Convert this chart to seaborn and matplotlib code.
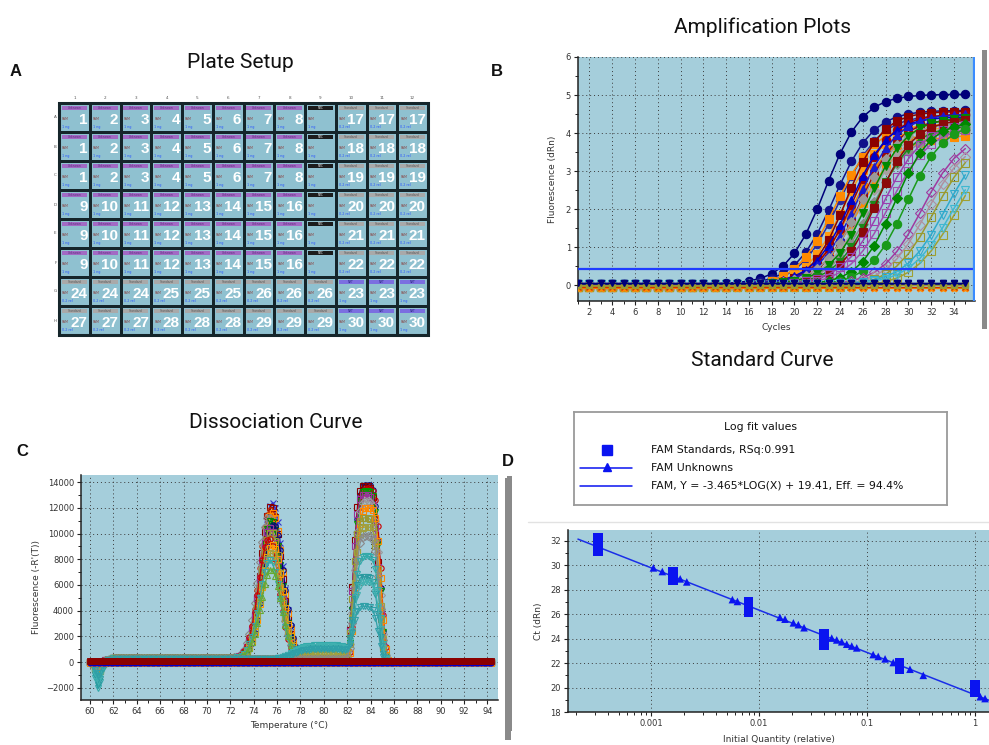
import numpy as np
import pandas as pd
import matplotlib
matplotlib.use("Agg")
import matplotlib.pyplot as plt
import seaborn as sns
from matplotlib.patches import Rectangle
from matplotlib.colors import ListedColormap
from matplotlib.ticker import MultipleLocator, LogLocator, FixedLocator, NullFormatter, FixedFormatter

# ---------------------------------------------------------------- data
# A: 96-well plate layout (sample numbers, None = empty number)
plate_row_names = list("ABCDEFGH")
plate_col_names = [str(i) for i in range(1, 13)]
plate_ids = [
    [1, 2, 3, 4, 5, 6, 7, 8, None, 17, 17, 17],
    [1, 2, 3, 4, 5, 6, 7, 8, None, 18, 18, 18],
    [1, 2, 3, 4, 5, 6, 7, 8, None, 19, 19, 19],
    [9, 10, 11, 12, 13, 14, 15, 16, None, 20, 20, 20],
    [9, 10, 11, 12, 13, 14, 15, 16, None, 21, 21, 21],
    [9, 10, 11, 12, 13, 14, 15, 16, None, 22, 22, 22],
    [24, 24, 24, 25, 25, 25, 26, 26, 26, 23, 23, 23],
    [27, 27, 27, 28, 28, 28, 29, 29, 29, 30, 30, 30],
]
# U = unknown, N = no-template, S = standard, B = buffer control
plate_types = ["UUUUUUUUNSSS"] * 6 + ["SSSSSSSSSBBB"] * 2
type_strip_color = {"U": "#a26ac4", "N": "#1c1c1c", "S": "#a9a9a9", "B": "#7b6fe0"}
type_strip_text = {"U": "Unknown", "N": "NTC", "S": "Standard", "B": "NRT"}
type_strip_text_color = {"U": "#5a2a7a", "N": "#f0f0f0", "S": "#555555", "B": "#2a2a80"}
type_qty_text = {"U": "1 ng", "N": "1 ng", "S": "0.2 rel", "B": "1 ng"}

# B: amplification curves (logistic fits read per well)
amp_cycles = np.arange(1, 36)
amp_colors = ["#00007a", "#10108a", "#2a2aa0", "#ff8a00", "#ff9a10", "#f08000", "#ff8c00",
              "#8b0000", "#a00000", "#9a0a0a", "#0000c8", "#1a1ad0", "#9a9a9a", "#a8a0a0",
              "#8c8c8c", "#008a00", "#1a8a1a", "#8b0a0a", "#9a40b0", "#a050b0", "#008800",
              "#1a9a1a", "#a03aa0", "#b090a0", "#9a9a30", "#30aacc", "#a0a030", "#40b8d0"]
amp_markers = ["o", "o", "o", "s", "s", "s", "s", "s", "o", "s", "^", "^", "D", "D",
               "D", "v", "v", "s", "s", "s", "D", "o", "D", "D", "s", "v", "s", "v"]
amp_open = [False] * 18 + [True, True, False, False, True, True, True, True, True, True]
amp_mid = [22.7, 23.5, 24.0, 23.6, 24.3, 25.0, 25.6, 24.6, 25.2, 25.8, 25.0, 25.6, 25.8, 26.3,
           26.8, 26.5, 27.0, 27.2, 27.8, 28.3, 28.8, 29.8, 31.2, 31.6, 32.3, 33.3, 34.2, 33.8]
amp_max = [5.0, 4.6, 4.5, 4.3, 4.2, 4.1, 4.0, 4.6, 4.5, 4.4, 4.4, 4.5, 4.3, 4.2,
           4.1, 4.4, 4.2, 4.4, 4.3, 4.2, 4.3, 4.3, 4.0, 3.9, 4.0, 4.0, 4.0, 3.8]
amp_slope = [1.65, 1.7, 1.75, 1.75, 1.7, 1.75, 1.8, 1.55, 1.65, 1.7, 1.65, 1.75, 1.75, 1.8,
             1.8, 1.7, 1.7, 1.65, 1.8, 1.8, 1.55, 1.65, 1.75, 1.75, 1.8, 1.8, 1.9, 1.85]
amp_base = [0.02, 0.0, -0.02, -0.06, -0.05, -0.04, -0.06, -0.03, 0.0, -0.02, 0.03, 0.01, -0.02,
            0.0, 0.01, 0.02, 0.0, -0.03, 0.0, -0.02, 0.01, -0.02, 0.0, -0.03, -0.05, 0.02, -0.06, 0.01]
amp_flat_level = [-0.07, -0.04, 0.03, 0.05, -0.01, 0.06]
amp_flat_colors = ["#ff8800", "#d03000", "#00007a", "#0000a0", "#9a9a30", "#00007a"]
amp_flat_markers = ["X", "x", "v", "v", "s", "v"]
amp_threshold = 0.43

# C: melt-curve derivative peaks
diss_step = 0.22
p1_temp = [75.6, 75.5, 75.4, 75.6, 75.3, 75.5, 75.7, 75.4, 75.5, 75.3, 75.6, 75.5, 75.4, 75.5]
p1_height = [12100, 11800, 11500, 11300, 11000, 10700, 10400, 10100, 9800, 9300, 8800, 8200, 7600, 6900]
p1_colors = ["#3333cc", "#8b0000", "#cc3300", "#ff8800", "#8a8a8a", "#008800", "#00007a",
             "#993399", "#999933", "#cc0000", "#ff9900", "#a0a040", "#33aaaa", "#66aa33"]
p1_markers = ["x", "s", "o", "s", "D", "v", "o", "s", "s", "o", "s", "s", "v", "^"]
p1_dip = [300, 200, 400, 800, 300, 500, 200, 300, 900, 400, 700, 1000, 1300, 600]
p2_temp = [83.7, 83.6, 83.8, 83.7, 83.6, 83.7, 83.8, 83.6, 83.7, 83.7, 83.7, 83.6, 83.7, 83.6]
p2_height = [13800, 13700, 13500, 13300, 13000, 12500, 12000, 11200, 10500, 9800, 8200, 6600, 6200, 4300]
p2_colors = ["#00007a", "#8b0000", "#cc0000", "#009900", "#993399", "#9a9a9a", "#ff8800",
             "#999933", "#a0a040", "#8a8a8a", "#33aaaa", "#2a9aa0", "#40b0b0", "#30a0a8"]
p2_markers = ["o", "s", "o", "v", "s", "D", "s", "s", "s", "D", "v", "v", "v", "v"]
p2_shoulder = [0, 0, 0, 0, 0, 0, 0, 300, 400, 0, 1100, 900, 1000, 800]
p2_dip = [200, 300, 200, 400, 300, 300, 600, 900, 700, 400, 2100, 1800, 1500, 1100]
flat_level = [0, 80, -80, 40, -40, 120]
flat_colors = ["#00007a", "#cc0000", "#ff8800", "#993399", "#0000cc", "#8b0000"]
flat_markers = ["o", "o", "s", "v", "o", "s"]

# D: standard curve
std_qty = [0.00032] * 4 + [0.0016] * 4 + [0.008] * 4 + [0.04] * 4 + [0.2] * 4 + [1.0] * 3
std_ct = [31.2, 31.6, 32.0, 32.3, 28.8, 29.0, 29.3, 29.5, 26.2, 26.5, 26.8, 27.0,
          23.5, 23.8, 24.1, 24.4, 21.5, 21.7, 21.9, 22.0, 19.6, 19.9, 20.2]
unk_qty = [0.00105, 0.00127, 0.00186, 0.00214, 0.00566, 0.0063, 0.0156, 0.0174, 0.0208,
           0.0231, 0.0261, 0.0471, 0.0524, 0.0583, 0.0649, 0.0722, 0.0803, 0.114, 0.127,
           0.147, 0.175, 0.25, 0.332, 1.12, 1.24]
unk_ct = [29.8, 29.5, 28.9, 28.65, 27.2, 27.05, 25.75, 25.6, 25.3, 25.15, 24.9, 24.05,
          23.9, 23.75, 23.55, 23.4, 23.25, 22.7, 22.55, 22.35, 22.05, 21.5, 21.0, 19.25, 19.1]
fit_slope = -3.465
fit_intercept = 19.41
fit_rsq = 0.991
fit_eff = 94.4
fit_qmin = 2.1e-4

# ---------------------------------------------------------------- figure
sns.set_theme(style="white")
plt.rcParams["font.family"] = ["DejaVu Sans"]

W, H = 989, 745
fig = plt.figure(figsize=(W / 100, H / 100), dpi=100)
fig.patch.set_facecolor("white")

PLOT_BG = "#a5cedb"
TITLE_FONT = dict(family=["Roboto", "DejaVu Sans"], weight="normal", size=15, color="#111111")
LETTER_FONT = dict(family=["Liberation Sans", "DejaVu Sans"], weight="bold", size=12, color="#111111")


def px_axes(l, t, r, b):
    return fig.add_axes([l / W, 1 - b / H, (r - l) / W, (b - t) / H])


def ftext(x, y, s, **kw):
    fig.text(x / W, 1 - y / H, s, **kw)


def fbar(l, t, r, b, color):
    fig.add_artist(Rectangle((l / W, 1 - b / H), (r - l) / W, (b - t) / H,
                             transform=fig.transFigure, color=color, lw=0))


def style_axes(ax):
    ax.set_facecolor(PLOT_BG)
    for side in ("top", "right"):
        ax.spines[side].set_visible(False)
    for side in ("left", "bottom"):
        ax.spines[side].set_visible(True)
        ax.spines[side].set_color("#222222")
        ax.spines[side].set_linewidth(1.1)
    ax.tick_params(which="major", direction="out", length=3, width=0.8, color="#222222",
                   labelsize=6, labelcolor="#333333", pad=2, left=True, bottom=True)
    ax.tick_params(which="minor", direction="out", length=2, width=0.7, color="#222222",
                   left=True, bottom=True)
    ax.grid(True, which="major", linestyle=(0, (1, 3)), color="#3a3a3a", lw=0.7)
    ax.set_axisbelow(True)


# ---------------------------------------------------------------- A: plate
ftext(240, 62, "Plate Setup", ha="center", va="center", **TITLE_FONT)
ftext(16, 72, "A", ha="center", va="center", **LETTER_FONT)

axA = px_axes(59, 103, 428, 335)
sns.heatmap(np.zeros((8, 12)), cmap=ListedColormap(["#8fc1d0"]), cbar=False,
            linewidths=1.8, linecolor="#15252a", xticklabels=False, yticklabels=False, ax=axA)
axA.add_patch(Rectangle((0, 0), 12, 8, fill=False, ec="#15252a", lw=2.2, clip_on=False))
for r in range(8):
    for c in range(12):
        kind = plate_types[r][c]
        axA.add_patch(Rectangle((c + 0.09, r + 0.09), 0.82, 0.15, color=type_strip_color[kind], lw=0))
        axA.text(c + 0.5, r + 0.165, type_strip_text[kind], ha="center", va="center",
                 fontsize=2.2, color=type_strip_text_color[kind])
        axA.text(c + 0.1, r + 0.56, "FAM", ha="left", va="center", fontsize=2.4, color="#8a4a4a")
        axA.text(c + 0.1, r + 0.84, type_qty_text[kind], ha="left", va="center",
                 fontsize=2.4, color="#2a55ff")
        if plate_ids[r][c] is not None:
            axA.text(c + 0.93, r + 0.58, str(plate_ids[r][c]), ha="right", va="center",
                     fontsize=11, weight="bold", color="white",
                     family=["Liberation Sans", "DejaVu Sans"])
for c, name in enumerate(plate_col_names):
    axA.text(c + 0.5, -0.12, name, ha="center", va="bottom", fontsize=3, color="#555555")
for r, name in enumerate(plate_row_names):
    axA.text(-0.08, r + 0.5, name, ha="right", va="center", fontsize=3, color="#555555")

# ---------------------------------------------------------------- B: amplification
ftext(762, 27, "Amplification Plots", ha="center", va="center", **TITLE_FONT)
ftext(497, 72, "B", ha="center", va="center", **LETTER_FONT)

axB = px_axes(578, 57, 975, 301)
style_axes(axB)
for i in range(len(amp_mid)):
    dRn = amp_base[i] + amp_max[i] / (1 + np.exp(-(amp_cycles - amp_mid[i]) / amp_slope[i]))
    sns.lineplot(x=amp_cycles, y=dRn, ax=axB, color=amp_colors[i], lw=1.1,
                 marker=amp_markers[i], markersize=6.0 if amp_markers[i] in "os" else 5.2,
                 mfc="none" if amp_open[i] else amp_colors[i], mec=amp_colors[i], mew=0.8,
                 legend=False, zorder=3)
for lvl, col, mk in zip(amp_flat_level, amp_flat_colors, amp_flat_markers):
    sns.lineplot(x=amp_cycles, y=np.full(amp_cycles.shape, lvl), ax=axB, color=col, lw=1.0,
                 marker=mk, markersize=5.0, mec=col, mew=1.0, legend=False, zorder=4)
axB.axhline(amp_threshold, color="#1f3cff", lw=1.6, zorder=5)
axB.set_xlim(1.0, 35.85)
axB.set_ylim(-0.42, 6.0)
axB.axvline(35.75, color="#3a8cff", lw=1.6, zorder=5)
axB.xaxis.set_major_locator(MultipleLocator(2))
axB.xaxis.set_minor_locator(MultipleLocator(1))
axB.yaxis.set_major_locator(MultipleLocator(1))
axB.yaxis.set_minor_locator(MultipleLocator(0.5))
axB.set_xlabel("Cycles", fontsize=6.5, color="#333333", labelpad=4)
axB.set_ylabel("Fluorescence (dRn)", fontsize=6.5, color="#333333", labelpad=6)
fbar(982, 50, 987, 329, "#8a8a8a")

# ---------------------------------------------------------------- C: dissociation
ftext(276, 423, "Dissociation Curve", ha="center", va="center", **TITLE_FONT)
ftext(22, 452, "C", ha="center", va="center", **LETTER_FONT)

axC = px_axes(81, 475, 498, 700)
style_axes(axC)
temps = np.arange(60.0, 94.5 + 1e-9, diss_step)


def edge_on(t, t0, w):
    return 1 / (1 + np.exp(-(t - t0) / w))


for i in range(len(p1_temp)):
    bg = 320 * edge_on(temps, 61.4, 0.3) * (1 - edge_on(temps, p1_temp[i] + 1.6, 0.4))
    dip = -p1_dip[i] * np.exp(-((temps - 60.7) / 0.35) ** 2)
    peak = p1_height[i] * np.exp(-((temps - p1_temp[i]) / 1.25) ** 2)
    sns.lineplot(x=temps, y=bg + dip + peak, ax=axC, color=p1_colors[i], lw=0.9,
                 marker=p1_markers[i], markersize=3.8, mfc="none", mec=p1_colors[i], mew=0.8,
                 legend=False, zorder=3)
for i in range(len(p2_temp)):
    bg = 220 * edge_on(temps, 61.4, 0.3) * (1 - edge_on(temps, 82.5, 0.4))
    sh = p2_shoulder[i] * edge_on(temps, 77.3, 0.5) * (1 - edge_on(temps, 82.4, 0.3))
    dip = -p2_dip[i] * np.exp(-((temps - 60.7) / 0.35) ** 2)
    peak = p2_height[i] * np.exp(-np.abs((temps - p2_temp[i]) / 1.2) ** 4)
    sns.lineplot(x=temps, y=bg + sh + dip + peak, ax=axC, color=p2_colors[i], lw=0.9,
                 marker=p2_markers[i], markersize=3.8, mfc="none", mec=p2_colors[i], mew=0.8,
                 legend=False, zorder=3)
for lvl, col, mk in zip(flat_level, flat_colors, flat_markers):
    sns.lineplot(x=temps, y=np.full(temps.shape, lvl), ax=axC, color=col, lw=0.9,
                 marker=mk, markersize=3.8, mec=col, mew=0.6, legend=False, zorder=4)
axC.set_xlim(59.23, 94.9)
axC.set_ylim(-2950, 14550)
axC.xaxis.set_major_locator(MultipleLocator(2))
axC.xaxis.set_minor_locator(MultipleLocator(1))
axC.yaxis.set_major_locator(MultipleLocator(2000))
axC.yaxis.set_minor_locator(MultipleLocator(1000))
axC.set_xlabel("Temperature (°C)", fontsize=6.5, color="#333333", labelpad=4)
axC.set_ylabel("Fluorescence (-R'(T))", fontsize=6.5, color="#333333", labelpad=4)
fbar(505, 478, 511, 740, "#8a8a8a")

# ---------------------------------------------------------------- D: standard curve
ftext(762, 360, "Standard Curve", ha="center", va="center", **TITLE_FONT)
ftext(508, 461, "D", ha="center", va="center", **LETTER_FONT)
fbar(507, 476, 512, 731, "#8a8a8a")
fig.add_artist(plt.Line2D([528 / W, 1.0], [1 - 522 / H, 1 - 522 / H], transform=fig.transFigure,
                          color="#e2e2e2", lw=1.0))

axD = px_axes(568, 530, 989, 712)
style_axes(axD)
axD.set_xscale("log")
axD.set_xlim(10 ** -3.77, 10 ** 0.13)
axD.set_ylim(18, 32.9)
q_line = np.array([fit_qmin, 10 ** 0.13])
axD.plot(q_line, fit_slope * np.log10(q_line) + fit_intercept, color="#1a2ee8", lw=1.1, zorder=3)
unk_df = pd.DataFrame({"qty": unk_qty, "ct": unk_ct})
std_df = pd.DataFrame({"qty": std_qty, "ct": std_ct})
sns.scatterplot(data=unk_df, x="qty", y="ct", ax=axD, marker="^", s=30, color="#0a14f0",
                edgecolor="none", legend=False, zorder=4)
sns.scatterplot(data=std_df, x="qty", y="ct", ax=axD, marker="s", s=48, color="#0a14f0",
                edgecolor="none", legend=False, zorder=5)
axD.xaxis.set_major_locator(FixedLocator([0.001, 0.01, 0.1, 1]))
axD.xaxis.set_major_formatter(FixedFormatter(["0.001", "0.01", "0.1", "1"]))
axD.xaxis.set_minor_locator(LogLocator(base=10, subs=np.arange(2, 10), numticks=20))
axD.xaxis.set_minor_formatter(NullFormatter())
axD.yaxis.set_major_locator(MultipleLocator(2))
axD.yaxis.set_minor_locator(MultipleLocator(1))
axD.set_xlabel("Initial Quantity (relative)", fontsize=6.5, color="#333333", labelpad=5)
axD.set_ylabel("Ct (dRn)", fontsize=6.5, color="#333333", labelpad=5)

# legend box for the standard curve
axL = px_axes(574, 412, 947, 505)
axL.set_xlim(574, 947)
axL.set_ylim(505, 412)
axL.set_xticks([])
axL.set_yticks([])
axL.set_facecolor("white")
for sp in axL.spines.values():
    sp.set_visible(True)
    sp.set_color("#9a9a9a")
    sp.set_linewidth(1.3)
LEG_FONT = dict(fontsize=7.8, color="#111111", va="center", ha="left")
axL.text(760, 427, "Log fit values", ha="center", va="center", fontsize=7.8, color="#111111")
axL.plot([607], [450], marker="s", ms=7, color="#0a14f0", ls="none")
axL.plot([580, 632], [468, 468], color="#0a14f0", lw=1.1)
axL.plot([607], [467], marker="^", ms=6, color="#0a14f0")
axL.plot([580, 632], [486, 486], color="#0a14f0", lw=1.1)
axL.text(651, 450, f"FAM Standards, RSq:{fit_rsq:.3f}", **LEG_FONT)
axL.text(651, 468, "FAM Unknowns", **LEG_FONT)
axL.text(651, 486, f"FAM, Y = {fit_slope:.3f}*LOG(X) + {fit_intercept:.2f}, Eff. = {fit_eff:.1f}%",
         **LEG_FONT)

fig.savefig("out.png", dpi=100, facecolor="white")
